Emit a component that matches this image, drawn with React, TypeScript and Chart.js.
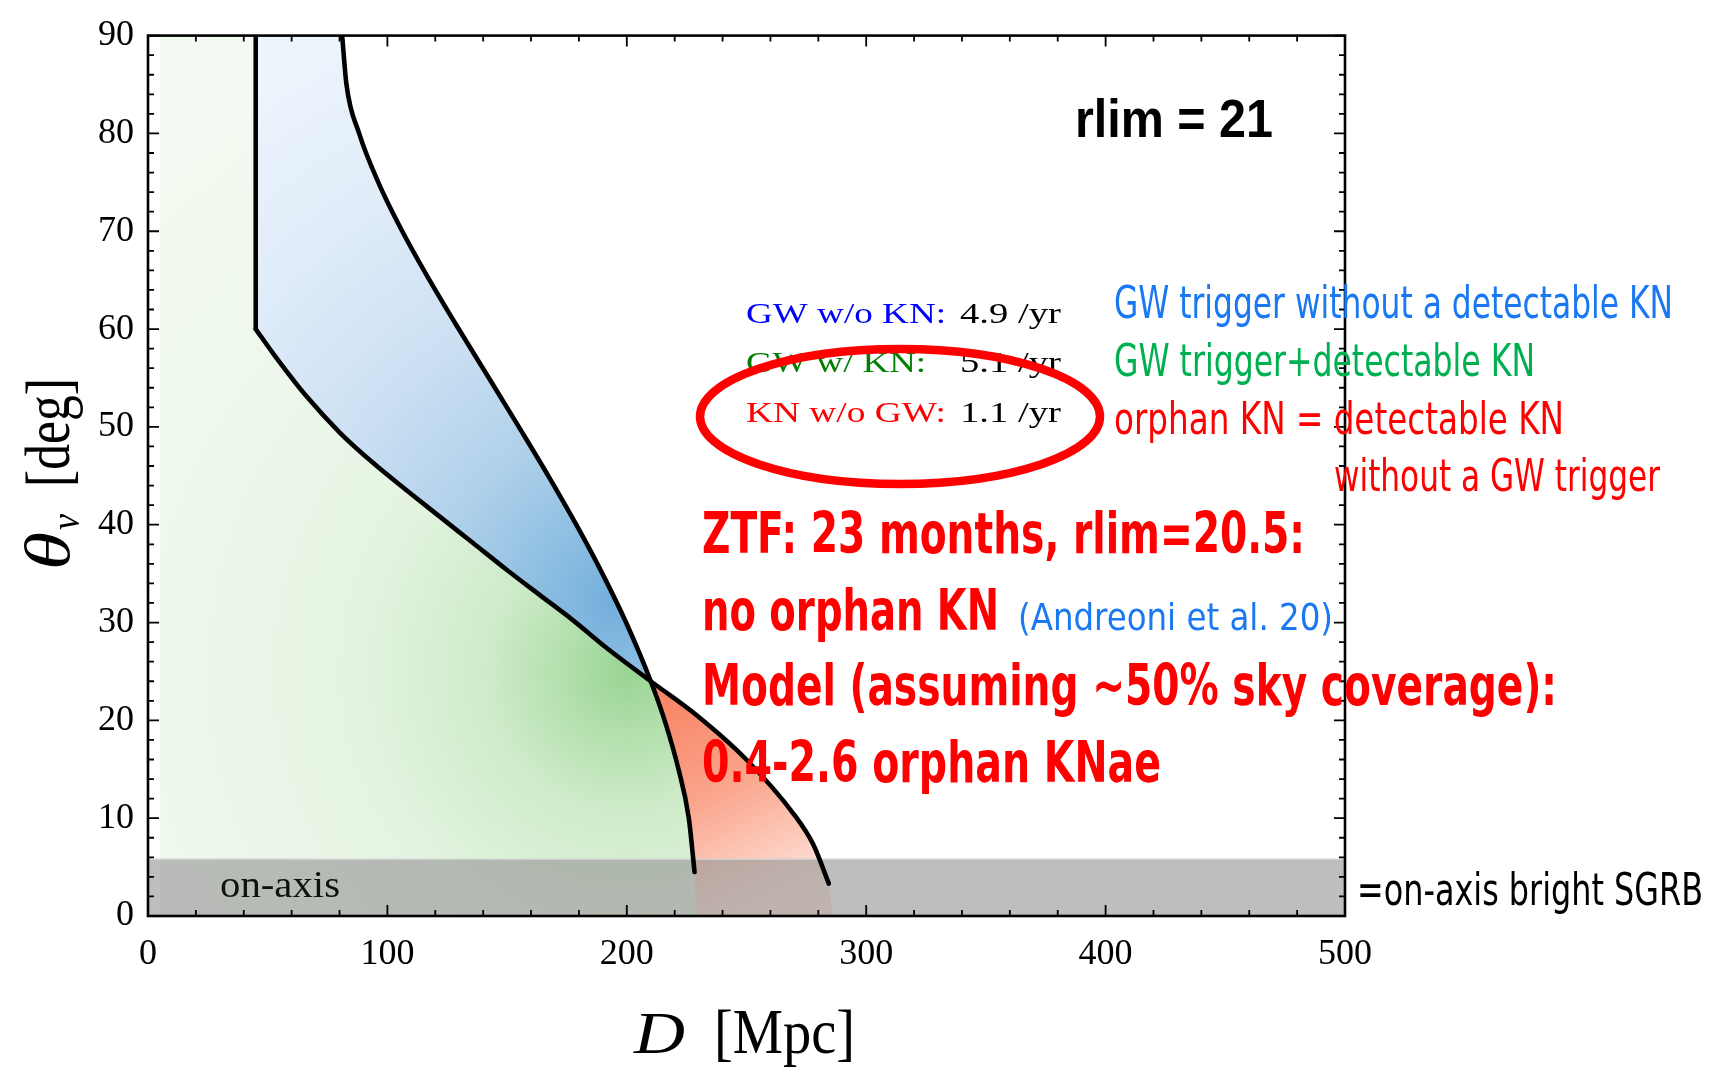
import React, { useEffect, useRef } from 'react';
import { Chart, registerables } from 'chart.js';

Chart.register(...registerables);

// ---------------- data ----------------
const X_TICKS = [0, 100, 200, 300, 400, 500];
const Y_TICKS = [0, 10, 20, 30, 40, 50, 60, 70, 80, 90];
const X_MINOR_STEP = 20;
const Y_MINOR_STEP = 2;

// vertical part of the KN horizon (D [Mpc], theta [deg])
const KN_VERTICAL_D = [45, 45];
const KN_VERTICAL_THETA = [90, 60];

// KN detectability horizon
const KN_D = [45, 52.3, 66.3, 80.2, 94.1, 108.1, 122, 135.9, 149.8, 163.7, 177.7, 191.6, 210, 229.3, 249.5, 269.8, 277.9, 284.4];
const KN_THETA = [60, 57.5, 53.1, 49.4, 46.3, 43.5, 40.8, 38.1, 35.4, 32.8, 30.2, 27.4, 24, 20.5, 16.1, 10.4, 7.3, 3.3];

// GW detection horizon
const GW_D = [81.1, 82.9, 88.2, 96.2, 106.2, 117.6, 129.8, 142.4, 154.9, 167.2, 178.9, 189.8, 199.7, 210, 215.8, 221.6, 225.9, 228.3];
const GW_THETA = [90, 85, 80, 75, 70, 65, 60, 55, 50, 45, 40, 35, 30, 24, 20, 15, 10, 4.5];

// crossing of the two horizons
const CROSS_D = 210;

// extents of the shaded (histogram) regions
const DENSITY_MIN_D = 5;
const GW_BASE_D = 228.8;
const KN_BASE_D = 286;

// on-axis band
const ON_AXIS_D = [0, 500];
const ON_AXIS_THETA = [5.8, 5.8];

// rates
const RATE_LABELS = ['GW w/o KN:', 'GW w/ KN:', 'KN w/o GW:'];
const RATE_VALUES = ['4.9 /yr', '5.1 /yr', '1.1 /yr'];

// ---------------- helpers ----------------
const toPts = (ds: number[], ts: number[]) => ds.map((d, i) => ({ x: d, y: ts[i] }));
const knPts = toPts(KN_D, KN_THETA);
const gwPts = toPts(GW_D, GW_THETA);
const kI = KN_D.indexOf(CROSS_D);
const gI = GW_D.indexOf(CROSS_D);

const greenPoly = [
  { x: DENSITY_MIN_D, y: 90 },
  { x: KN_VERTICAL_D[0], y: 90 },
  ...knPts.slice(0, kI + 1),
  ...gwPts.slice(gI + 1),
  { x: GW_BASE_D, y: 0 },
  { x: DENSITY_MIN_D, y: 0 },
];
const bluePoly = [
  { x: KN_VERTICAL_D[0], y: 90 },
  ...gwPts.slice(0, gI + 1),
  ...knPts.slice(0, kI).reverse(),
];
const redPoly = [
  ...knPts.slice(kI),
  { x: KN_BASE_D, y: 0 },
  { x: GW_BASE_D, y: 0 },
  ...gwPts.slice(gI + 1).reverse(),
];

function radial(chart: any, d: number, t: number, r: number, stops: [number, string][], fallback: string) {
  const { chartArea, scales } = chart;
  if (!chartArea) return fallback;
  const cx = scales.x.getPixelForValue(d);
  const cy = scales.y.getPixelForValue(t);
  const g = chart.ctx.createRadialGradient(cx, cy, 0, cx, cy, r);
  stops.forEach(([o, c]) => g.addColorStop(o, c));
  return g;
}
function linear(chart: any, d0: number, t0: number, d1: number, t1: number, stops: [number, string][], fallback: string) {
  const { chartArea, scales } = chart;
  if (!chartArea) return fallback;
  const g = chart.ctx.createLinearGradient(
    scales.x.getPixelForValue(d0), scales.y.getPixelForValue(t0),
    scales.x.getPixelForValue(d1), scales.y.getPixelForValue(t1));
  stops.forEach(([o, c]) => g.addColorStop(o, c));
  return g;
}

const SERIF = '"Liberation Serif", "DejaVu Serif", serif';
const SANS = '"Liberation Sans", Arial, sans-serif';
const NARROW = '"Liberation Sans Narrow", "DejaVu Sans Condensed", "Liberation Sans", sans-serif';
const BLUE_TXT = '#1a78f2';
const GREEN_TXT = '#00b050';
const RED = '#ff0000';

function fitText(ctx: CanvasRenderingContext2D, text: string, x: number, y: number, w: number | null, font: string, color: string) {
  ctx.save();
  ctx.font = font;
  ctx.fillStyle = color;
  ctx.textAlign = 'left';
  ctx.textBaseline = 'alphabetic';
  const m = ctx.measureText(text).width;
  const sx = w ? w / m : 1;
  ctx.translate(x, y);
  ctx.scale(sx, 1);
  ctx.fillText(text, 0, 0);
  ctx.restore();
}

const MAJOR_LEN = 11;
const MINOR_LEN = 6;

const frameAndTicks = {
  id: 'frameAndTicks',
  afterDatasetsDraw(chart: any) {
    const { ctx, chartArea: a, scales } = chart;
    const { x, y } = scales;
    ctx.save();
    ctx.strokeStyle = '#000';
    ctx.lineWidth = 1.8;
    ctx.beginPath();
    const x0 = X_TICKS[0], x1 = X_TICKS[X_TICKS.length - 1];
    for (let v = x0; v <= x1 + 1e-6; v += X_MINOR_STEP) {
      const p = x.getPixelForValue(v);
      const len = X_TICKS.includes(v) ? MAJOR_LEN : MINOR_LEN;
      ctx.moveTo(p, a.bottom); ctx.lineTo(p, a.bottom - len);
      ctx.moveTo(p, a.top); ctx.lineTo(p, a.top + len);
    }
    const y0 = Y_TICKS[0], y1 = Y_TICKS[Y_TICKS.length - 1];
    for (let v = y0; v <= y1 + 1e-6; v += Y_MINOR_STEP) {
      const p = y.getPixelForValue(v);
      const len = Y_TICKS.includes(v) ? MAJOR_LEN : MINOR_LEN;
      ctx.moveTo(a.left, p); ctx.lineTo(a.left + len, p);
      ctx.moveTo(a.right, p); ctx.lineTo(a.right - len, p);
    }
    ctx.stroke();
    ctx.lineWidth = 2.6;
    ctx.strokeRect(a.left, a.top, a.right - a.left, a.bottom - a.top);
    ctx.restore();
  },
};

const annotations = {
  id: 'annotations',
  afterDraw(chart: any) {
    const ctx: CanvasRenderingContext2D = chart.ctx;
    // on-axis label inside band
    fitText(ctx, 'on-axis', 220, 897, 120, `38px ${SERIF}`, '#111');

    // axis titles
    fitText(ctx, 'D', 634, 1053, 51, `italic 60px ${SERIF}`, '#000');
    fitText(ctx, '[Mpc]', 714, 1053, 141, `64px ${SERIF}`, '#000');
    ctx.save();
    ctx.translate(69, 570);
    ctx.rotate(-Math.PI / 2);
    fitText(ctx, 'θ', 0, 0, 38, `italic 64px ${SERIF}`, '#000');
    fitText(ctx, 'v', 40, 10, 16, `italic 42px ${SERIF}`, '#000');
    fitText(ctx, '[deg]', 83, 0, 109, `64px ${SERIF}`, '#000');
    ctx.restore();

    // rlim
    fitText(ctx, 'rlim = 21', 1075, 137, 198, `bold 54px ${SANS}`, '#000');

    // rates
    const rateColors = ['#0000ff', '#008000', '#ff0000'];
    const rateBase = [323, 372, 422];
    const rateW = [200, 180, 200];
    RATE_LABELS.forEach((lab, i) => {
      fitText(ctx, lab, 746, rateBase[i], rateW[i], `30px ${SERIF}`, rateColors[i]);
      fitText(ctx, RATE_VALUES[i], 960, rateBase[i], 101, `30px ${SERIF}`, '#000');
    });

    // red ellipse
    ctx.save();
    ctx.strokeStyle = RED;
    ctx.lineWidth = 8.5;
    ctx.beginPath();
    ctx.ellipse(900, 416.5, 200, 67.5, 0, 0, Math.PI * 2);
    ctx.stroke();
    ctx.restore();

    // explanations on the right
    fitText(ctx, 'GW trigger without a detectable KN', 1114, 318, 559, `45px ${NARROW}`, BLUE_TXT);
    fitText(ctx, 'GW trigger+detectable KN', 1114, 376, 421, `45px ${NARROW}`, GREEN_TXT);
    fitText(ctx, 'orphan KN = detectable KN', 1114, 434, 450, `45px ${NARROW}`, RED);
    fitText(ctx, 'without a GW trigger', 1334, 491, 326, `45px ${NARROW}`, RED);

    // ZTF block
    fitText(ctx, 'ZTF: 23 months, rlim=20.5:', 702, 553, 603, `bold 57px ${NARROW}`, RED);
    fitText(ctx, 'no orphan KN', 702, 630, 297, `bold 57px ${NARROW}`, RED);
    fitText(ctx, '(Andreoni et al. 20)', 1018, 630, 315, `38px ${NARROW}`, BLUE_TXT);
    fitText(ctx, 'Model (assuming ~50% sky coverage):', 702, 705, 855, `bold 57px ${NARROW}`, RED);
    fitText(ctx, '0.4-2.6 orphan KNae', 702, 782, 459, `bold 57px ${NARROW}`, RED);

    // on-axis explanation
    fitText(ctx, '=on-axis bright SGRB', 1357, 905, 346, `44px ${NARROW}`, '#000');
  },
};

export default function App() {
  const ref = useRef<HTMLCanvasElement>(null);
  useEffect(() => {
    document.body.style.margin = '0';
    const canvas = ref.current!;
    const fillBase = {
      showLine: true,
      fill: 'shape',
      borderWidth: 0,
      borderColor: 'transparent',
      pointRadius: 0,
      pointHoverRadius: 0,
      tension: 0,
      order: 3,
    };
    const curveBase = {
      showLine: true,
      fill: false,
      borderColor: '#000',
      borderWidth: 4.6,
      borderCapStyle: 'round',
      borderJoinStyle: 'round',
      pointRadius: 0,
      pointHoverRadius: 0,
      cubicInterpolationMode: 'monotone',
      order: 1,
    };
    const chart = new Chart(canvas, {
      type: 'scatter',
      data: {
        datasets: [
          {
            ...fillBase,
            label: 'GW w/ KN',
            data: greenPoly,
            backgroundColor: (c: any) => radial(c.chart, 200, 25, 700, [
              [0, 'rgb(152,212,146)'],
              [0.08, 'rgb(176,222,170)'],
              [0.2, 'rgb(206,235,201)'],
              [0.4, 'rgb(229,244,226)'],
              [0.7, 'rgb(239,248,237)'],
              [1, 'rgb(243,250,241)'],
            ], 'rgb(220,240,215)'),
          },
          {
            ...fillBase,
            label: 'GW w/o KN',
            data: bluePoly,
            backgroundColor: (c: any) => radial(c.chart, 195, 32, 620, [
              [0, 'rgb(115,175,219)'],
              [0.12, 'rgb(140,190,226)'],
              [0.28, 'rgb(175,208,234)'],
              [0.5, 'rgb(204,224,243)'],
              [0.75, 'rgb(224,236,249)'],
              [1, 'rgb(236,244,252)'],
            ], 'rgb(200,222,242)'),
          },
          {
            ...fillBase,
            label: 'KN w/o GW',
            data: redPoly,
            backgroundColor: (c: any) => linear(c.chart, 222, 22, 262, 2, [
              [0, 'rgb(248,135,105)'],
              [0.45, 'rgb(250,165,140)'],
              [1, 'rgb(254,225,215)'],
            ], 'rgb(250,170,145)'),
          },
          {
            label: 'on-axis',
            showLine: true,
            data: toPts(ON_AXIS_D, ON_AXIS_THETA),
            fill: 'start',
            backgroundColor: 'rgba(150,150,150,0.62)',
            borderColor: 'rgb(208,208,208)',
            borderWidth: 1.5,
            pointRadius: 0,
            pointHoverRadius: 0,
            order: 2,
          },
          { ...curveBase, label: 'KN vertical', data: toPts(KN_VERTICAL_D, KN_VERTICAL_THETA), cubicInterpolationMode: 'default', tension: 0 },
          { ...curveBase, label: 'KN horizon', data: knPts },
          { ...curveBase, label: 'GW horizon', data: gwPts },
        ] as any,
      },
      options: {
        responsive: false,
        maintainAspectRatio: false,
        animation: false,
        devicePixelRatio: 1,
        events: [],
        layout: { padding: { left: 0, top: 25, right: 366, bottom: 0 } },
        plugins: {
          legend: { display: false },
          tooltip: { enabled: false },
          title: { display: false },
        },
        scales: {
          x: {
            type: 'linear',
            min: X_TICKS[0],
            max: X_TICKS[X_TICKS.length - 1],
            afterBuildTicks: (s: any) => { s.ticks = X_TICKS.map((v) => ({ value: v })); },
            afterFit: (s: any) => { s.height = 165; },
            ticks: {
              color: '#000',
              font: { family: SERIF, size: 36 },
              padding: 17,
              maxRotation: 0,
              autoSkip: false,
            },
            grid: { display: false, drawTicks: false },
            border: { display: false },
          },
          y: {
            type: 'linear',
            min: Y_TICKS[0],
            max: Y_TICKS[Y_TICKS.length - 1],
            afterBuildTicks: (s: any) => { s.ticks = Y_TICKS.map((v) => ({ value: v })); },
            afterFit: (s: any) => { s.width = 148; },
            ticks: {
              color: '#000',
              font: { family: SERIF, size: 36 },
              padding: 14,
              autoSkip: false,
            },
            grid: { display: false, drawTicks: false },
            border: { display: false },
          },
        },
      } as any,
      plugins: [frameAndTicks, annotations],
    });
    return () => chart.destroy();
  }, []);
  return (
    <div style={{ width: 1711, height: 1081, position: 'relative', background: '#fff' }}>
      <canvas ref={ref} width={1711} height={1081} style={{ display: 'block', width: 1711, height: 1081 }} />
    </div>
  );
}
